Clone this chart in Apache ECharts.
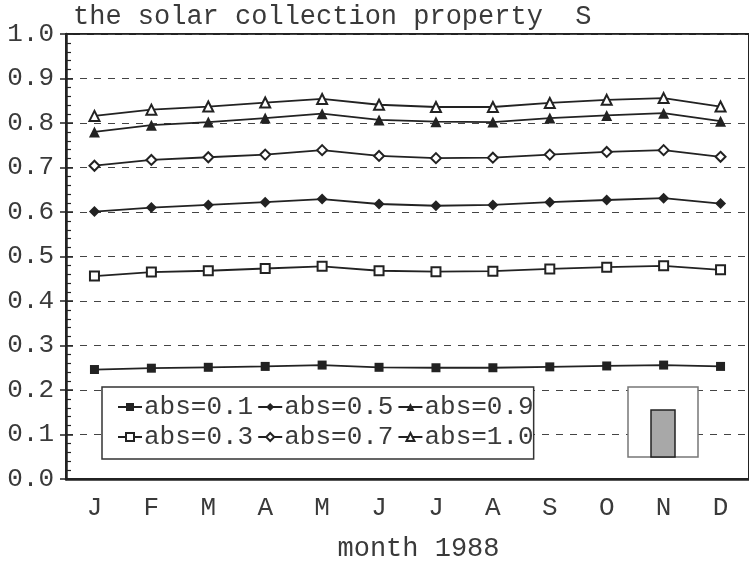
<!DOCTYPE html>
<html>
<head>
<meta charset="utf-8">
<script src="https://cdn.jsdelivr.net/npm/echarts@6/dist/echarts.min.js"></script>
<style>
html,body{margin:0;padding:0;background:#fff;}
#main{width:749px;height:567px;}
</style>
</head>
<body>
<div id="main"></div>
<script>
var months = ['J','F','M','A','M','J','J','A','S','O','N','D'];
var abs01 = [0.246,0.249,0.251,0.253,0.256,0.251,0.250,0.250,0.252,0.254,0.256,0.253];
var abs03 = [0.456,0.465,0.468,0.473,0.478,0.468,0.466,0.467,0.472,0.476,0.479,0.470];
var abs05 = [0.601,0.610,0.616,0.622,0.629,0.618,0.614,0.616,0.622,0.627,0.631,0.619];
var abs07 = [0.704,0.717,0.723,0.729,0.739,0.726,0.721,0.722,0.729,0.735,0.739,0.724];
var abs09 = [0.780,0.795,0.802,0.811,0.821,0.807,0.803,0.802,0.811,0.817,0.822,0.804];
var abs10 = [0.816,0.830,0.837,0.846,0.854,0.841,0.836,0.836,0.845,0.852,0.856,0.837];

var font = 'Liberation Mono';
var ink = '#222';
var txt = '#3a3a3a';

function line(name, data, symbol, size){
	return {
		name: name,
		type: 'line',
		data: data,
		symbol: symbol,
		symbolSize: size,
		showSymbol: true,
		lineStyle: {color: ink, width: 1.8},
		itemStyle: {color: ink, borderColor: ink, borderWidth: symbol.indexOf('empty') === 0 ? 1.6 : 0},
		emphasis: {disabled: true},
		z: 3
	};
}

var myChart = echarts.init(document.getElementById('main'));
var option = {
	animation: false,
	textStyle: {fontFamily: font},
	title: {
		text: 'the solar collection property  S',
		left: 68,
		top: -2,
		textStyle: {fontFamily: font, fontSize: 27, fontWeight: 'normal', color: txt}
	},
	legend: {
		left: 102,
		top: 387,
		width: 430,
		padding: [7, 0, 9, 15],
		itemGap: 4,
		itemWidth: 24,
		itemHeight: 10,
		backgroundColor: '#fff',
		borderColor: '#333',
		borderWidth: 1.5,
		borderRadius: 0,
		textStyle: {fontFamily: font, fontSize: 26, color: txt, padding: [0, 0, 0, -3]},
		data: ['abs=0.1','abs=0.5','abs=0.9','abs=0.3','abs=0.7','abs=1.0']
	},
	grid: {
		left: 66,
		top: 34,
		right: -6,
		bottom: 87,
		show: true,
		borderColor: ink,
		borderWidth: 2,
		containLabel: false
	},
	xAxis: {
		type: 'category',
		data: months,
		boundaryGap: true,
		name: 'month 1988',
		nameLocation: 'middle',
		nameGap: 56,
		nameTextStyle: {fontFamily: font, fontSize: 27, color: txt, padding: [0, 0, 0, 22]},
		axisLine: {lineStyle: {color: ink, width: 2.5}},
		axisTick: {inside: true, length: 7, lineStyle: {color: ink, width: 1.5}},
		axisLabel: {fontFamily: font, fontSize: 26, color: txt, margin: 16},
		splitLine: {show: false}
	},
	yAxis: [{
		type: 'value',
		min: 0,
		max: 1,
		interval: 0.1,
		axisLine: {show: true, lineStyle: {color: ink, width: 2.5}},
		axisTick: {show: true, inside: true, length: 7, lineStyle: {color: ink, width: 1.5}},
		minorTick: {show: true, splitNumber: 5, length: 5, lineStyle: {color: ink, width: 1.2}},
		axisLabel: {
			fontFamily: font, fontSize: 26, color: txt, margin: 12,
			formatter: function(v){ return v.toFixed(1); }
		},
		splitLine: {show: true, lineStyle: {color: '#444', width: 1, type: [7, 7]}}
	}, {
		type: 'value',
		position: 'left',
		min: 0,
		max: 1,
		interval: 0.1,
		axisLine: {show: false},
		axisTick: {show: true, inside: false, length: 6, lineStyle: {color: ink, width: 1.5}},
		axisLabel: {show: false},
		splitLine: {show: false}
	}],
	graphic: [{
		type: 'rect',
		shape: {x: 628, y: 387, width: 70, height: 70},
		style: {fill: '#fff', stroke: '#777', lineWidth: 1.5},
		z: 10
	}, {
		type: 'rect',
		shape: {x: 651, y: 410, width: 24, height: 47},
		style: {fill: '#a8a8a8', stroke: '#222', lineWidth: 1.5},
		z: 11
	}],
	series: [
		line('abs=0.1', abs01, 'rect', 9),
		line('abs=0.3', abs03, 'emptyRect', 9),
		line('abs=0.5', abs05, 'diamond', 11),
		line('abs=0.7', abs07, 'emptyDiamond', 10),
		line('abs=0.9', abs09, 'triangle', 11),
		line('abs=1.0', abs10, 'emptyTriangle', 10)
	]
};
myChart.setOption(option);
</script>
</body>
</html>
